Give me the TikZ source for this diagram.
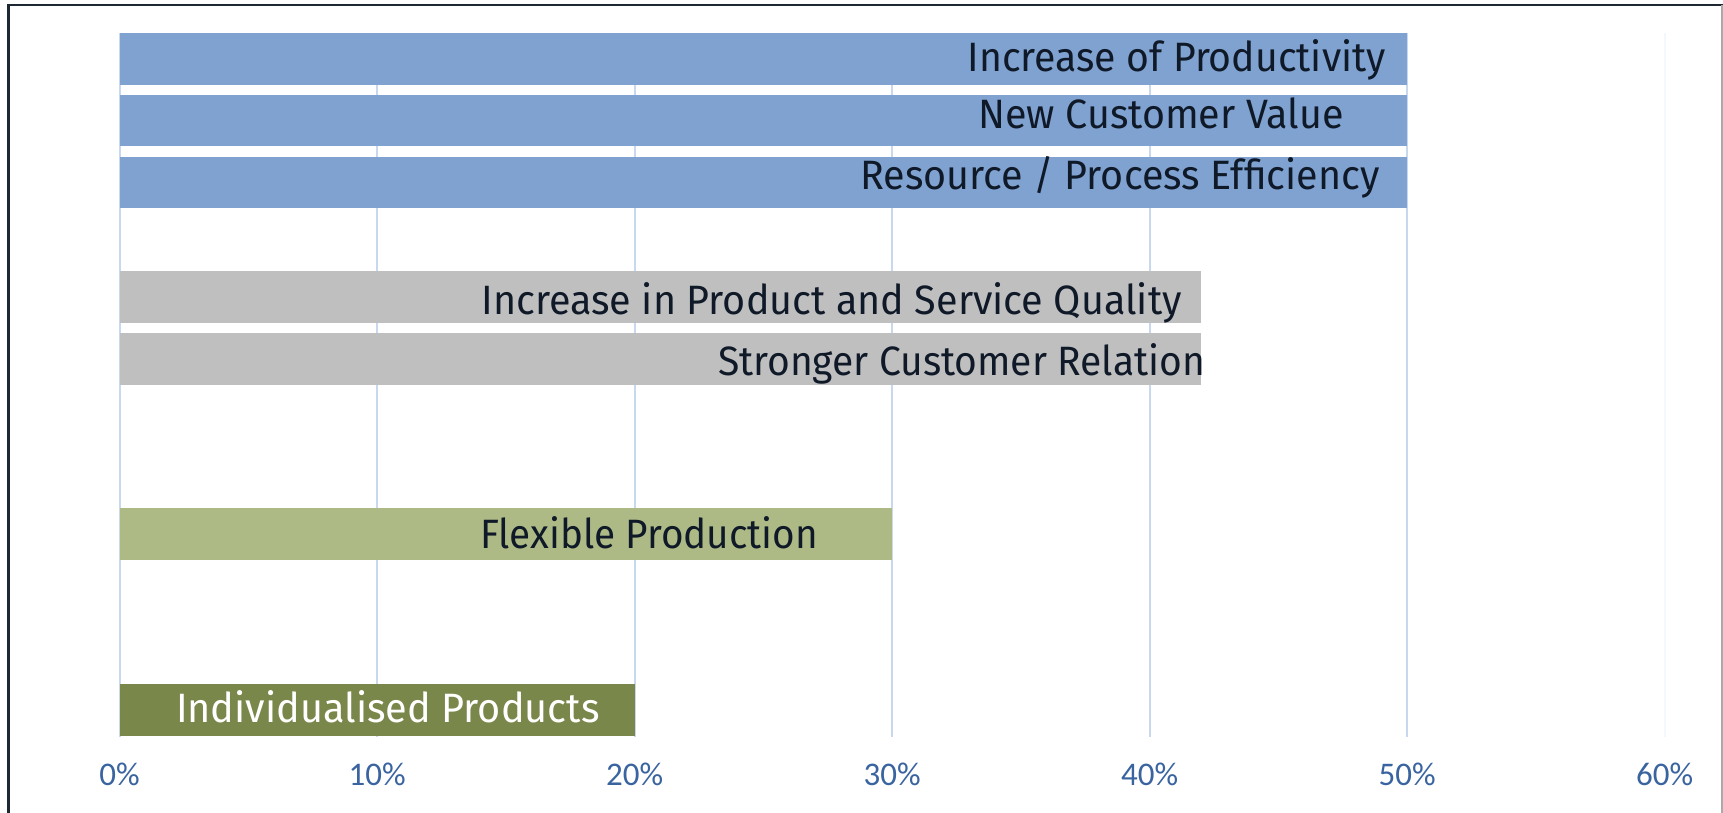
\documentclass[tikz,border=0pt]{standalone}
\usepackage{fontspec}
\usepackage{graphicx}
\setmainfont{Fira Sans}
\newfontfamily\axisfont{Carlito}
\definecolor{barblue}{RGB}{127,162,208}
\definecolor{bargray}{RGB}{191,191,191}
\definecolor{barlgreen}{RGB}{173,186,134}
\definecolor{bardgreen}{RGB}{122,135,75}
\definecolor{gridc}{RGB}{200,216,238}
\definecolor{gridfaint}{RGB}{244,247,251}
\definecolor{txtc}{RGB}{15,25,40}
\definecolor{axisc}{RGB}{58,100,160}
\definecolor{framec}{RGB}{30,40,50}
\definecolor{framer}{RGB}{170,170,170}
\newcommand{\fitw}[2]{\resizebox{#1pt}{\height}{#2}}
\tikzset{
  gridln/.style={gridc, line width=2pt},
  barlab/.style={anchor=base west, inner sep=0pt, outer sep=0pt, text=txtc, font=\fontsize{41}{48}\selectfont},
  axislab/.style={anchor=base, inner sep=0pt, text=axisc, font=\axisfont\fontsize{33}{38}\selectfont},
}
\begin{document}
\begin{tikzpicture}[x=1pt,y=-1pt]
\useasboundingbox (0,0) rectangle (1723,813);
\fill[white] (0,0) rectangle (1723,813);
% frame
\draw[framec, line width=2.5pt] (8.5,815) -- (8.5,5) -- (1723,5);
\draw[framer, line width=2pt] (1722,5) -- (1722,815);
% gridlines
\foreach \i in {0,...,5} {
  \draw[gridln] ({119.6+257.5*\i},33) -- ++(0,704);
}
\draw[gridfaint, line width=2pt] ({119.6+257.5*6},33) -- ++(0,704);
% bars
\fill[barblue] (120.4,33.3) rectangle (1407.1,84.6);
\fill[barblue] (120.4,95) rectangle (1407.1,146.3);
\fill[barblue] (120.4,156.7) rectangle (1407.1,208.3);
\fill[bargray] (120.4,271) rectangle (1201.1,322.5);
\fill[bargray] (120.4,333.3) rectangle (1201.1,384.8);
\fill[barlgreen] (120.4,508.3) rectangle (892.1,559.5);
\fill[bardgreen] (120.4,684) rectangle (634.6,735.5);
% bar labels
\node[barlab] (l1) at (967.5,72) {\fitw{418}{Increase of Productivity}};
\node[barlab] (l2) at (978.5,128.5) {\fitw{365}{New Customer Value}};
\node[barlab] (l3) at (860.5,190) {\fitw{519}{Resource / Process Efficiency}};
\node[barlab] (l4) at (481.5,314.5) {\fitw{700}{Increase in Product and Service Quality}};
\node[barlab] (l5) at (718,375.5) {\fitw{487}{Stronger Customer Relation}};
\node[barlab] (l6) at (480,548) {\fitw{338}{Flexible Production}};
\node[barlab, text=white] (l7) at (176,722) {\fitw{423.5}{Individualised Products}};
% axis labels
\foreach \i/\t in {0/0\%,1/10\%,2/20\%,3/30\%,4/40\%,5/50\%,6/60\%} {
  \node[axislab] (ax\i) at ({119.6+257.5*\i},785) {\t};
}
\end{tikzpicture}
\end{document}
